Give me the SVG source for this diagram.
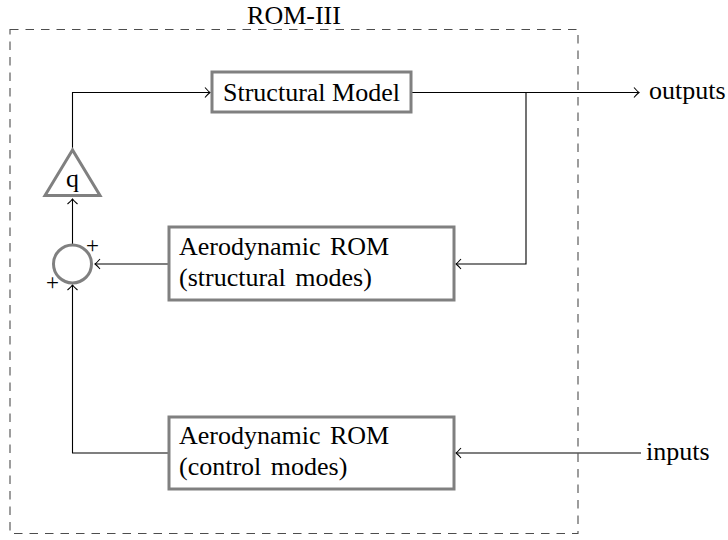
<svg xmlns="http://www.w3.org/2000/svg" width="728" height="540" viewBox="0 0 728 540">
  <style>
    .blk { fill: #ffffff; stroke: #808080; stroke-width: 3; }
    .wire { fill: none; stroke: #000000; stroke-width: 1.1; }
    .lbl { font-family: "Liberation Serif", "Times New Roman", serif; font-size: 26px; fill: #000000; }
    .sign { font-family: "Liberation Serif", "Times New Roman", serif; font-size: 23px; fill: #000000; }
    .frame { fill: none; stroke: #4d4d4d; stroke-width: 1.1; stroke-dasharray: 8.5 7; }
  </style>
  <defs>
    <marker id="to" markerUnits="userSpaceOnUse" markerWidth="12" markerHeight="14" viewBox="-7 -7 8 14" refX="0" refY="0" orient="auto">
      <path d="M -5 -5 Q -1.5 -1 0 0 Q -1.5 1 -5 5" fill="none" stroke="#000000" stroke-width="1.1"/>
    </marker>
  </defs>

  <!-- ROM-III boundary -->
  <rect id="rom-frame" class="frame" x="10" y="29.5" width="568" height="504"/>
  <text class="lbl" x="294" y="23.5" text-anchor="middle">ROM-III</text>

  <g id="connectors">
    <path class="wire" d="M 72.5 150 V 92.5 H 210" marker-end="url(#to)"/>
    <path class="wire" d="M 411 92.5 H 639" marker-end="url(#to)"/>
    <path class="wire" d="M 526 92.5 V 264 H 456" marker-end="url(#to)"/>
    <path class="wire" d="M 169 264 H 95" marker-end="url(#to)"/>
    <path class="wire" d="M 72.5 245 V 199" marker-end="url(#to)"/>
    <path class="wire" d="M 169 453 H 72.5 V 285" marker-end="url(#to)"/>
    <path class="wire" d="M 641 453 H 456" marker-end="url(#to)"/>
  </g>

  <g id="structural-model">
    <rect class="blk" x="212" y="72" width="199" height="40"/>
    <text class="lbl" x="311.5" y="100.5" text-anchor="middle">Structural Model</text>
  </g>

  <g id="gain-q">
    <polygon class="blk" points="72.5,150 45,195.5 100,195.5"/>
    <text class="lbl" x="72.5" y="187" text-anchor="middle">q</text>
  </g>

  <g id="summer">
    <circle class="blk" cx="72.5" cy="264" r="19"/>
    <text class="sign" x="92.5" y="253" text-anchor="middle">+</text>
    <text class="sign" x="52.5" y="289.5" text-anchor="middle">+</text>
  </g>

  <g id="aero-structural">
    <rect class="blk" x="169" y="227" width="285" height="73"/>
    <text class="lbl" x="179" y="255" word-spacing="3">Aerodynamic ROM</text>
    <text class="lbl" x="179" y="286" word-spacing="3">(structural modes)</text>
  </g>

  <g id="aero-control">
    <rect class="blk" x="169" y="417" width="285" height="72"/>
    <text class="lbl" x="179" y="444" word-spacing="3">Aerodynamic ROM</text>
    <text class="lbl" x="179" y="475" word-spacing="3">(control modes)</text>
  </g>

  <g id="outputs">
    <text class="lbl" x="649" y="99">outputs</text>
  </g>
  <g id="inputs">
    <text class="lbl" x="646" y="460">inputs</text>
  </g>
</svg>
